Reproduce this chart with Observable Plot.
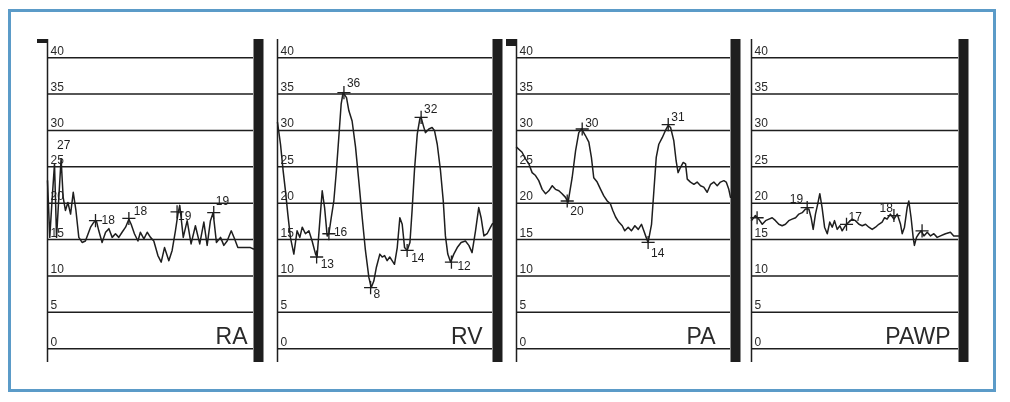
<!DOCTYPE html>
<html><head><meta charset="utf-8">
<script src="https://cdn.jsdelivr.net/npm/d3@7"></script>
<script src="https://cdn.jsdelivr.net/npm/@observablehq/plot@0.6"></script>
<style>
html,body{margin:0;padding:0;background:#fff;}
#wrap{position:relative;width:1010px;height:402px;overflow:hidden;}
#wrap svg{position:absolute;left:0;top:0;will-change:transform;}
#border{position:absolute;left:8px;top:9px;width:988px;height:383px;box-sizing:border-box;border:3px solid #5b9bc8;}
</style></head><body><div id="wrap"><div id="border"></div></div>
<script>
// ---- data ----
const panelNames = ["RA", "RV", "PA", "PAWP"];
const yTicks = [0, 5, 10, 15, 20, 25, 30, 35, 40];

const raTime = [0, 1.1, 2.3, 3.4, 4.4, 5.5, 6.6, 7.6, 8.7, 9.9, 11.2, 12.5, 13.8, 15.2, 16.8, 18.4, 20.9, 22.5, 23.8, 24.9, 26.5, 28.2, 29.8, 31.4, 33.0, 34.6, 36.2, 37.9, 39.5, 40.6, 42.2, 43.9, 45.1, 46.8, 48.4, 50.0, 51.6, 53.6, 55.2, 56.8, 58.9, 60.5, 62.1, 63.3, 64.2, 65.9, 67.8, 69.7, 71.8, 73.9, 75.9, 77.5, 79.1, 80.4, 82.0, 84.0, 85.6, 87.2, 89.2, 90.8, 92.4, 98.5, 100];
const raPressure = [23.1, 15.3, 20.8, 25.4, 15.3, 20.8, 26.1, 20.8, 19.0, 20.1, 18.5, 21.5, 19.0, 15.3, 14.6, 14.8, 16.7, 17.4, 17.5, 16.2, 14.6, 16.0, 16.5, 15.3, 15.8, 15.3, 16.0, 16.7, 17.8, 17.1, 15.8, 14.8, 16.0, 15.1, 16.0, 15.3, 14.8, 12.8, 11.9, 13.9, 12.1, 13.5, 16.2, 18.5, 19.7, 15.3, 17.6, 14.4, 16.9, 14.4, 17.4, 14.2, 17.6, 18.7, 14.6, 15.3, 14.2, 14.8, 16.2, 15.1, 13.9, 13.9, 13.7];
const raMarkTime = [23.3, 39.5, 62.9, 80.7];
const raMarkPressure = [17.6, 17.9, 18.8, 18.7];
const raMarkLabel = ["18", "18", "19", "19"];
const raNoteTime = [6.6];
const raNotePressure = [26.1];
const raNoteLabel = ["27"];

const rvTime = [0, 1.4, 2.6, 3.7, 4.8, 6.0, 7.6, 9.1, 10.4, 11.5, 13.0, 14.6, 16.1, 17.7, 18.4, 19.7, 20.8, 21.9, 23.1, 23.9, 25.0, 26.2, 27.4, 28.5, 29.6, 30.5, 32.1, 33.2, 34.7, 36.3, 37.8, 39.4, 40.9, 42.5, 43.6, 44.8, 46.0, 47.6, 48.7, 49.8, 51.0, 52.2, 53.3, 54.4, 55.7, 56.9, 58.0, 59.1, 60.3, 61.6, 62.6, 63.7, 65.0, 66.2, 66.8, 67.8, 68.8, 70.4, 71.9, 73.0, 74.3, 75.8, 77.1, 78.1, 79.2, 80.5, 82.0, 83.6, 85.4, 87.4, 89.0, 90.5, 92.1, 93.6, 94.7, 96.0, 97.5, 99.1, 100];
const rvPressure = [31.1, 28.1, 24.5, 21.7, 18.5, 15.3, 13.0, 16.2, 15.3, 16.7, 15.8, 16.2, 14.8, 13.0, 12.6, 17.6, 21.7, 19.4, 15.5, 15.8, 18.0, 20.3, 24.5, 29.0, 33.6, 35.2, 34.5, 32.7, 31.3, 27.7, 23.1, 18.0, 13.5, 9.8, 8.4, 9.3, 11.2, 13.0, 12.6, 12.8, 12.1, 12.6, 12.1, 11.6, 13.9, 18.0, 17.1, 13.9, 13.5, 14.6, 19.0, 24.5, 29.5, 31.6, 31.8, 30.7, 29.7, 30.2, 30.4, 30.0, 28.1, 24.5, 20.3, 15.5, 13.0, 11.9, 13.0, 13.9, 14.6, 14.8, 14.2, 13.2, 16.2, 19.4, 18.0, 15.5, 15.8, 16.7, 17.2];
const rvMarkTime = [18.2, 23.9, 30.9, 43.3, 60.3, 66.8, 80.9];
const rvMarkPressure = [12.6, 15.8, 35.2, 8.4, 13.5, 31.8, 11.9];
const rvMarkLabel = ["13", "16", "36", "8", "14", "32", "12"];

const paTime = [0, 2.6, 4.2, 5.8, 7.3, 8.9, 10.4, 12.0, 13.6, 15.1, 16.7, 18.2, 19.8, 21.3, 22.9, 24.1, 26.0, 27.6, 29.1, 30.4, 32.2, 33.8, 35.0, 36.1, 37.7, 39.3, 40.8, 42.4, 43.9, 45.0, 46.3, 47.8, 49.4, 50.6, 52.2, 53.7, 55.3, 56.9, 58.4, 59.5, 60.6, 61.5, 63.1, 64.2, 65.3, 66.5, 68.1, 69.6, 70.9, 72.0, 73.5, 74.6, 75.5, 76.6, 77.9, 79.0, 79.8, 81.3, 82.9, 84.4, 86.0, 87.5, 89.1, 90.7, 92.2, 93.8, 95.3, 96.9, 98.0, 99.2, 100];
const paPressure = [27.7, 27.0, 26.1, 25.4, 24.2, 23.8, 23.1, 21.9, 21.3, 21.7, 22.4, 21.9, 21.7, 21.3, 20.8, 20.1, 23.5, 27.2, 29.7, 30.2, 29.3, 28.4, 26.3, 23.5, 22.9, 21.9, 21.0, 20.3, 19.9, 19.0, 18.1, 17.4, 16.9, 16.2, 16.7, 16.2, 16.9, 16.4, 17.1, 16.2, 15.3, 14.6, 17.1, 21.7, 26.3, 28.1, 29.0, 30.0, 30.7, 30.4, 28.6, 25.8, 24.2, 24.9, 25.6, 25.4, 23.3, 22.9, 22.6, 22.9, 22.4, 22.2, 21.5, 22.6, 22.9, 22.4, 22.9, 23.1, 22.9, 21.9, 20.8];
const paMarkTime = [23.7, 30.7, 61.5, 70.9];
const paMarkPressure = [20.3, 30.2, 14.6, 30.8];
const paMarkLabel = ["20", "30", "14", "31"];

const pawpTime = [0, 1.9, 3.5, 5.2, 6.8, 8.4, 10.0, 11.6, 13.2, 14.8, 16.4, 18.0, 19.6, 21.3, 22.9, 24.5, 26.1, 27.7, 28.8, 29.8, 30.9, 32.0, 33.0, 34.1, 35.3, 36.6, 37.8, 39.0, 40.1, 41.4, 42.7, 43.8, 44.9, 45.9, 47.0, 48.6, 50.2, 51.9, 53.5, 55.1, 56.7, 58.3, 59.9, 61.5, 63.1, 64.3, 65.5, 67.1, 68.8, 70.4, 72.0, 72.8, 73.9, 75.2, 76.0, 77.1, 78.1, 78.7, 79.7, 80.8, 82.0, 83.3, 84.9, 86.5, 88.1, 89.7, 91.3, 93.7, 96.1, 97.7, 100];
const pawpPressure = [17.6, 18.3, 17.8, 17.1, 17.6, 17.8, 18.0, 17.6, 17.1, 16.9, 17.1, 17.6, 17.8, 18.0, 18.5, 18.7, 19.2, 19.2, 18.0, 16.4, 18.5, 19.9, 21.3, 19.4, 16.7, 15.8, 17.4, 16.7, 17.6, 16.4, 16.9, 16.2, 16.7, 17.1, 17.4, 17.8, 17.6, 17.1, 16.9, 17.1, 16.7, 16.4, 16.7, 17.1, 17.4, 18.0, 17.8, 18.5, 17.8, 18.5, 17.1, 15.8, 16.7, 19.4, 20.3, 18.0, 15.3, 14.2, 15.3, 15.8, 16.2, 15.5, 16.0, 15.5, 15.8, 15.3, 15.5, 15.8, 16.0, 15.5, 15.5];
const pawpMarkTime = [2.7, 26.9, 45.9, 68.8, 82.4];
const pawpMarkPressure = [18.0, 19.4, 17.1, 18.3, 16.2];
const pawpMarkLabel = ["", "19", "17", "18", ""];

// ---- build ----
const zip = (t, p, l) => t.map((d, i) => ({t: d, p: p[i], label: l ? l[i] : ""}));
const panels = [
  {wave: zip(raTime, raPressure), marks: zip(raMarkTime, raMarkPressure, raMarkLabel), notes: zip(raNoteTime, raNotePressure, raNoteLabel)},
  {wave: zip(rvTime, rvPressure), marks: zip(rvMarkTime, rvMarkPressure, rvMarkLabel), notes: []},
  {wave: zip(paTime, paPressure), marks: zip(paMarkTime, paMarkPressure, paMarkLabel), notes: []},
  {wave: zip(pawpTime, pawpPressure), marks: zip(pawpMarkTime, pawpMarkPressure, pawpMarkLabel), notes: []}
];

// layout / style (pixels)
const ink = "#1e1e1e";
const font = "'Liberation Sans', Arial, Helvetica, sans-serif";
const layout = [
  {left: 47, right: 253, nameDx: -6, flag: [10, 4],
   offsets: [[6, 0], [5, -7], [1, 4], [2, -11]], noteOffsets: [[-4, -14]]},
  {left: 277, right: 492, nameDx: -10, flag: null,
   offsets: [[4, 7], [5, -2], [3, -9.5], [3, 7], [4, 8], [3, -8], [6, 4]], noteOffsets: []},
  {left: 516, right: 730, nameDx: -15, flag: [10, 7],
   offsets: [[3, 10], [3, -6], [3, 11], [3, -7]], noteOffsets: []},
  {left: 751, right: 958, nameDx: -8, flag: null,
   offsets: [[0, 0], [-4, -8, "end"], [2, -7.5], [-1, -7, "end"], [0, 0]], noteOffsets: []}
];
const yDomain = [-1.9, 42.5];
const H = 402, W = 1010, mTop = 39, mBottom = 40;
const pxPerY = (H - mTop - mBottom) / (yDomain[1] - yDomain[0]);

const wrap = document.getElementById("wrap");
panels.forEach((P, i) => {
  const L = layout[i];
  const pxPerT = (L.right - L.left) / 100;
  const m = [
    Plot.ruleY(yTicks, {stroke: ink, strokeWidth: 1.5}),
    Plot.text(yTicks, {x: 0, y: d => d, text: d => String(d), dx: 3, dy: -3, textAnchor: "start", lineAnchor: "bottom", fontSize: 12, fill: "#2a2a2a"}),
    Plot.ruleX([0], {stroke: ink, strokeWidth: 1.5}),
    Plot.ruleX([100], {stroke: ink, strokeWidth: 10, dx: 5}),
    Plot.line(P.wave, {x: "t", y: "p", stroke: ink, strokeWidth: 1.5, strokeLinejoin: "round"}),
    Plot.dot(P.marks, {x: "t", y: "p", symbol: "plus", r: 4.3, stroke: ink, strokeWidth: 1.3}),
    ...P.marks.map((d, j) => {
      const o = L.offsets[j];
      return Plot.text([d], {x: "t", y: "p", text: "label", dx: o[0], dy: o[1], textAnchor: o[2] || "start", fontSize: 12, fill: ink});
    }),
    ...P.notes.map((d, j) => {
      const o = L.noteOffsets[j];
      return Plot.text([d], {x: "t", y: "p", text: "label", dx: o[0], dy: o[1], textAnchor: "start", fontSize: 12, fill: ink});
    }),
    Plot.text([panelNames[i]], {x: 100, y: 0, text: d => d, dx: L.nameDx, dy: -5, textAnchor: "end", lineAnchor: "bottom", fontSize: 23, fill: "#2a2a2a"})
  ];
  if (L.flag) {
    m.push(Plot.rect([0], {x1: -L.flag[0] / pxPerT, x2: 0, y1: yDomain[1] - L.flag[1] / pxPerY, y2: yDomain[1], fill: ink}));
  }
  const chart = Plot.plot({
    width: W, height: H,
    marginLeft: L.left, marginRight: W - L.right, marginTop: mTop, marginBottom: mBottom,
    x: {domain: [0, 100], axis: null},
    y: {domain: yDomain, axis: null},
    style: {background: "transparent", fontFamily: font, overflow: "visible"},
    marks: m
  });
  wrap.appendChild(chart);
});
</script>
</body></html>
